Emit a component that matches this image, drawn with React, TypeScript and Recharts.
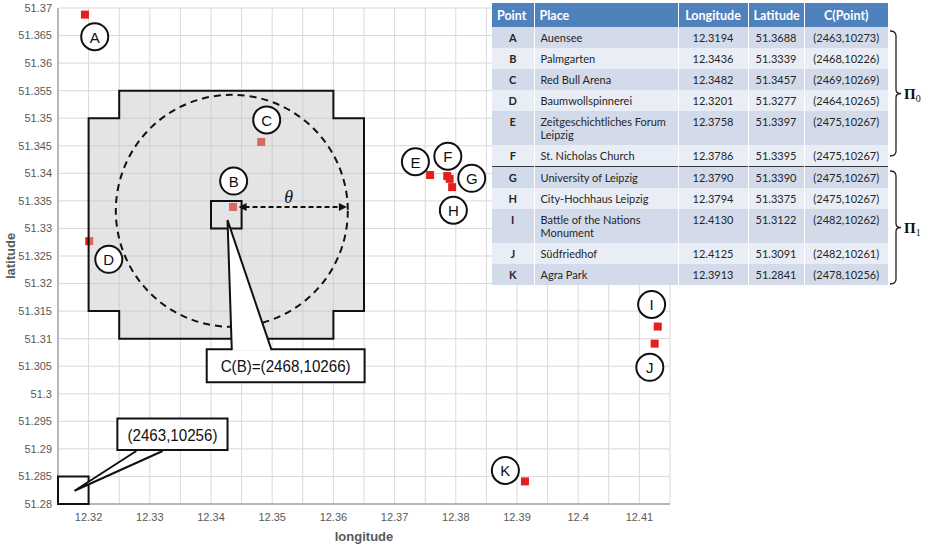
import React from 'react';
import {
  ScatterChart,
  Scatter,
  XAxis,
  YAxis,
  CartesianGrid,
  ReferenceArea,
  ReferenceDot,
  ReferenceLine,
} from 'recharts';

// Points of interest in Leipzig
const pointIds = ['A', 'B', 'C', 'D', 'E', 'F', 'G', 'H', 'I', 'J', 'K'];
const places = [
  'Auensee',
  'Palmgarten',
  'Red Bull Arena',
  'Baumwollspinnerei',
  'Zeitgeschichtliches Forum Leipzig',
  'St. Nicholas Church',
  'University of Leipzig',
  'City-Hochhaus Leipzig',
  'Battle of the Nations Monument',
  'Südfriedhof',
  'Agra Park',
];
const longitudes = [12.3194, 12.3436, 12.3482, 12.3201, 12.3758, 12.3786, 12.379, 12.3794, 12.413, 12.4125, 12.3913];
const latitudes = [51.3688, 51.3339, 51.3457, 51.3277, 51.3397, 51.3395, 51.339, 51.3375, 51.3122, 51.3091, 51.2841];
const cellCodes = [
  '(2463,10273)',
  '(2468,10226)',
  '(2469,10269)',
  '(2464,10265)',
  '(2475,10267)',
  '(2475,10267)',
  '(2475,10267)',
  '(2475,10267)',
  '(2482,10262)',
  '(2482,10261)',
  '(2478,10256)',
];

// Where each point's letter tag sits
const tagLon = [12.321, 12.3437, 12.3491, 12.3233, 12.3734, 12.3787, 12.3826, 12.3796, 12.412, 12.4117, 12.3881];
const tagLat = [51.3648, 51.3386, 51.3497, 51.3244, 51.3421, 51.3431, 51.3391, 51.3333, 51.3162, 51.3048, 51.2861];

// Axis ticks (grid every 0.005)
const xTicks = [
  12.315, 12.32, 12.325, 12.33, 12.335, 12.34, 12.345, 12.35, 12.355, 12.36, 12.365,
  12.37, 12.375, 12.38, 12.385, 12.39, 12.395, 12.4, 12.405, 12.41, 12.415,
];
const yTicks = [
  51.28, 51.285, 51.29, 51.295, 51.3, 51.305, 51.31, 51.315, 51.32, 51.325, 51.33,
  51.335, 51.34, 51.345, 51.35, 51.355, 51.36, 51.365, 51.37,
];

// Grid cells covered by the neighbourhood of B
const regionLon = [12.32, 12.325, 12.325, 12.36, 12.36, 12.365, 12.365, 12.36, 12.36, 12.325, 12.325, 12.32];
const regionLat = [51.35, 51.35, 51.355, 51.355, 51.35, 51.35, 51.315, 51.315, 51.31, 51.31, 51.315, 51.315];

// Centre of the θ-neighbourhood circle
const circleCentre = { x: 12.3434, y: 51.3332 };

// Single grid cells
const cellOfB = { x1: 12.34, x2: 12.345, y1: 51.33, y2: 51.335 };
const originCell = { x1: 12.315, x2: 12.32, y1: 51.28, y2: 51.285 };

// Callouts: box extents and pointer (base, tip, base)
const calloutB = { text: 'C(B)=(2468,10266)', x1: 12.3393, x2: 12.3651, y1: 51.3021, y2: 51.3081 };
const calloutBPointerLon = [12.3434, 12.3427, 12.3499];
const calloutBPointerLat = [51.3081, 51.3315, 51.3081];
const calloutOrigin = { text: '(2463,10256)', x1: 12.3247, x2: 12.3427, y1: 51.2898, y2: 51.2955 };
const calloutOriginPointerLon = [12.3278, 12.3177, 12.3321];
const calloutOriginPointerLat = [51.2898, 51.2824, 51.2898];

// Radius arrow θ from B
const reachLon = [12.3445, 12.3622];

const sites = pointIds.map((id, i) => ({ id, x: longitudes[i], y: latitudes[i] }));
const tags = pointIds.map((id, i) => ({ id, x: tagLon[i], y: tagLat[i] }));
const region = regionLon.map((x, i) => ({ x, y: regionLat[i] }));
const pointerB = calloutBPointerLon.map((x, i) => ({ x, y: calloutBPointerLat[i] }));
const pointerOrigin = calloutOriginPointerLon.map((x, i) => ({ x, y: calloutOriginPointerLat[i] }));

const SANS = '"Liberation Sans", Arial, sans-serif';
const AXIS_GREY = '#595959';

const renderSite = (props: any) => {
  const { cx, cy } = props;
  return <rect x={cx - 4} y={cy - 4} width={8} height={8} fill="#e3201b" />;
};

const renderNothing = () => <g />;

const renderTag = (props: any) => {
  const { cx, cy, payload } = props;
  return (
    <g>
      <circle cx={cx} cy={cy} r={13.5} fill="#fff" stroke="#111" strokeWidth={2} />
      <text
        x={cx}
        y={cy + 0.5}
        textAnchor="middle"
        dominantBaseline="central"
        fontSize={15}
        fontFamily={SANS}
        fill="#111"
      >
        {payload.id}
      </text>
    </g>
  );
};

const renderRegion = (props: any) => {
  const pts = props.points || [];
  const d = pts.map((p: any, i: number) => `${i ? 'L' : 'M'}${p.x},${p.y}`).join(' ') + ' Z';
  return <path d={d} fill="#c4c4c4" fillOpacity={0.45} stroke="#111" strokeWidth={2} strokeLinejoin="miter" />;
};

const renderPointer = (props: any) => {
  const pts = props.points || [];
  if (pts.length < 3) return <g />;
  const [b1, tip, b2] = pts;
  return (
    <g>
      <path
        d={`M${b1.x},${b1.y + 1.5} L${tip.x},${tip.y} L${b2.x},${b2.y + 1.5} Z`}
        fill="#fff"
        stroke="none"
      />
      <path
        d={`M${b1.x},${b1.y + 1} L${tip.x},${tip.y} L${b2.x},${b2.y + 1}`}
        fill="none"
        stroke="#111"
        strokeWidth={2}
        strokeLinejoin="miter"
      />
    </g>
  );
};

const renderReach = (props: any) => {
  const { x1, y1, x2, y2 } = props;
  return (
    <g>
      <line x1={x1 + 6} y1={y1} x2={x2 - 6} y2={y2} stroke="#111" strokeWidth={2} strokeDasharray="5 3" />
      <path d={`M${x1},${y1} L${x1 + 8},${y1 - 4} L${x1 + 8},${y1 + 4} Z`} fill="#111" />
      <path d={`M${x2},${y2} L${x2 - 8},${y2 - 4} L${x2 - 8},${y2 + 4} Z`} fill="#111" />
      <text
        x={(x1 + x2) / 2 - 4}
        y={y1 - 4}
        textAnchor="middle"
        fontSize={18}
        fontStyle="italic"
        fontFamily='"Liberation Serif", "DejaVu Serif", serif'
        fill="#111"
      >
        θ
      </text>
    </g>
  );
};

const formatLon = (v: number) => (Math.round(v * 1000) % 10 === 0 ? String(Number(v.toFixed(2))) : '');
const formatLat = (v: number) => String(Number(v.toFixed(3)));

const xTitle = (props: any) => {
  const vb = props.viewBox || {};
  return (
    <text
      x={vb.x + vb.width / 2}
      y={vb.y + 32}
      textAnchor="middle"
      dominantBaseline="central"
      fontSize={13}
      fontWeight="bold"
      fontFamily={SANS}
      fill={AXIS_GREY}
    >
      longitude
    </text>
  );
};

const yTitle = (props: any) => {
  const vb = props.viewBox || {};
  const cx = 10;
  const cy = vb.y + vb.height / 2;
  return (
    <text
      x={cx}
      y={cy}
      transform={`rotate(-90, ${cx}, ${cy})`}
      textAnchor="middle"
      dominantBaseline="central"
      fontSize={13}
      fontWeight="bold"
      fontFamily={SANS}
      fill={AXIS_GREY}
    >
      latitude
    </text>
  );
};

// Callout text, squeezed a little to fit the box like a narrow face
const boxLabel = (text: string, span: number) => (props: any) => {
  const vb = props.viewBox || {};
  return (
    <text
      x={vb.x + vb.width / 2}
      y={vb.y + vb.height / 2 + 1}
      textAnchor="middle"
      dominantBaseline="central"
      fontSize={17}
      fontFamily={SANS}
      fill="#111"
      textLength={span}
      lengthAdjust="spacingAndGlyphs"
    >
      {text}
    </text>
  );
};

// Table beside the chart
const TABLE_FONT = 'Lato, "Open Sans", sans-serif';
const colWidths = [42, 144, 70, 56, 84];
const headers = ['Point', 'Place', 'Longitude', 'Latitude', 'C(Point)'];

function SitesTable() {
  const cellBase: React.CSSProperties = {
    padding: '4px 4px 4px 4px',
    lineHeight: '13px',
    verticalAlign: 'top',
    borderRight: '1.5px solid #fff',
    color: '#262626',
  };
  return (
    <table
      style={{
        position: 'absolute',
        left: 492,
        top: 3,
        width: 396,
        borderCollapse: 'collapse',
        tableLayout: 'fixed',
        fontFamily: TABLE_FONT,
        fontSize: 11,
      }}
    >
      <colgroup>
        {colWidths.map((w, i) => (
          <col key={i} style={{ width: w }} />
        ))}
      </colgroup>
      <thead>
        <tr style={{ height: 24, background: '#4f81bd' }}>
          {headers.map((h, i) => (
            <th
              key={h}
              style={{
                color: '#fff',
                fontWeight: 'bold',
                fontSize: 12.5,
                padding: '3px 5px',
                textAlign: i < 2 ? 'left' : 'center',
                borderRight: i < 4 ? '1.5px solid #fff' : 'none',
              }}
            >
              {h}
            </th>
          ))}
        </tr>
      </thead>
      <tbody>
        {pointIds.map((id, i) => {
          const sep: React.CSSProperties = id === 'G' ? { borderTop: '1.5px solid #3a3a3a' } : {};
          return (
            <tr key={id} style={{ background: i % 2 === 0 ? '#d3dbeb' : '#e9edf5' }}>
              <td style={{ ...cellBase, ...sep, textAlign: 'center', fontWeight: 'bold' }}>{id}</td>
              <td style={{ ...cellBase, ...sep, textAlign: 'left', paddingLeft: 6 }}>{places[i]}</td>
              <td style={{ ...cellBase, ...sep, textAlign: 'center' }}>{longitudes[i].toFixed(4)}</td>
              <td style={{ ...cellBase, ...sep, textAlign: 'center' }}>{latitudes[i].toFixed(4)}</td>
              <td style={{ ...cellBase, ...sep, textAlign: 'center', borderRight: 'none' }}>{cellCodes[i]}</td>
            </tr>
          );
        })}
      </tbody>
    </table>
  );
}

// Braces grouping the rows into partitions
const partitions = [
  { name: '0', top: 31, bottom: 156 },
  { name: '1', top: 171, bottom: 284 },
];

function PartitionBraces() {
  const x = 896;
  return (
    <svg style={{ position: 'absolute', left: 0, top: 0 }} width={931} height={300}>
      {partitions.map((p) => {
        const mid = (p.top + p.bottom) / 2;
        const d =
          `M${x - 6},${p.top} Q${x},${p.top} ${x},${p.top + 5} L${x},${mid - 4} ` +
          `Q${x},${mid} ${x + 5},${mid} Q${x},${mid} ${x},${mid + 4} ` +
          `L${x},${p.bottom - 5} Q${x},${p.bottom} ${x - 6},${p.bottom}`;
        return (
          <g key={p.name}>
            <path d={d} fill="none" stroke="#222" strokeWidth={1.3} />
            <text
              x={x + 8}
              y={mid + 5}
              fontFamily='"Liberation Serif", "DejaVu Serif", serif'
              fontWeight="bold"
              fontSize={15}
              fill="#111"
            >
              Π
              <tspan fontSize={10} fontWeight="normal" dy={3}>
                {p.name}
              </tspan>
            </text>
          </g>
        );
      })}
    </svg>
  );
}

export default function App() {
  return (
    <div style={{ position: 'absolute', left: 0, top: 0, width: 931, height: 548, background: '#fff' }}>
      <ScatterChart width={931} height={548} margin={{ top: 8, right: 261, bottom: 0, left: 0 }}>
        <CartesianGrid stroke="#d9d9d9" strokeWidth={1} />
        <XAxis
          type="number"
          dataKey="x"
          domain={[12.315, 12.415]}
          ticks={xTicks}
          interval={0}
          tickFormatter={formatLon}
          allowDataOverflow
          height={44}
          tickLine={false}
          tickSize={7}
          tickMargin={2}
          axisLine={{ stroke: '#a6a6a6', strokeWidth: 1.5 }}
          tick={{ fill: AXIS_GREY, fontSize: 11, fontFamily: SANS }}
          label={xTitle}
        />
        <YAxis
          type="number"
          dataKey="y"
          domain={[51.28, 51.37]}
          ticks={yTicks}
          interval={0}
          tickFormatter={formatLat}
          allowDataOverflow
          width={58}
          tickLine={false}
          tickSize={4}
          tickMargin={2}
          axisLine={{ stroke: '#a6a6a6', strokeWidth: 1.5 }}
          tick={{ fill: AXIS_GREY, fontSize: 11, fontFamily: SANS }}
          label={yTitle}
        />

        <Scatter data={sites} shape={renderSite} isAnimationActive={false} zIndex={600} />

        <Scatter
          data={region}
          shape={renderNothing}
          line={renderRegion}
          lineType="joint"
          isAnimationActive={false}
          zIndex={650}
        />

        <ReferenceDot
          x={circleCentre.x}
          y={circleCentre.y}
          r={116}
          fill="none"
          stroke="#111"
          strokeWidth={2}
          strokeDasharray="7 5"
          ifOverflow="visible"
          zIndex={700}
        />

        <ReferenceArea
          {...cellOfB}
          fill="#fff"
          fillOpacity={0}
          stroke="#111"
          strokeWidth={2}
          ifOverflow="visible"
          zIndex={710}
        />
        <ReferenceArea
          {...originCell}
          fill="#fff"
          fillOpacity={0}
          stroke="#111"
          strokeWidth={2}
          ifOverflow="visible"
          zIndex={710}
        />

        <ReferenceLine
          segment={[
            { x: reachLon[0], y: latitudes[1] },
            { x: reachLon[1], y: latitudes[1] },
          ]}
          shape={renderReach}
          ifOverflow="visible"
          zIndex={720}
        />

        <Scatter data={tags} shape={renderTag} isAnimationActive={false} zIndex={730} />

        <ReferenceArea
          x1={calloutB.x1}
          x2={calloutB.x2}
          y1={calloutB.y1}
          y2={calloutB.y2}
          fill="#fff"
          fillOpacity={1}
          stroke="#111"
          strokeWidth={2}
          ifOverflow="visible"
          label={boxLabel(calloutB.text, 130)}
          zIndex={740}
        />
        <ReferenceArea
          x1={calloutOrigin.x1}
          x2={calloutOrigin.x2}
          y1={calloutOrigin.y1}
          y2={calloutOrigin.y2}
          fill="#fff"
          fillOpacity={1}
          stroke="#111"
          strokeWidth={2}
          ifOverflow="visible"
          label={boxLabel(calloutOrigin.text, 90)}
          zIndex={740}
        />

        <Scatter
          data={pointerB}
          shape={renderNothing}
          line={renderPointer}
          lineType="joint"
          isAnimationActive={false}
          zIndex={750}
        />
        <Scatter
          data={pointerOrigin}
          shape={renderNothing}
          line={renderPointer}
          lineType="joint"
          isAnimationActive={false}
          zIndex={750}
        />
      </ScatterChart>
      <SitesTable />
      <PartitionBraces />
    </div>
  );
}
